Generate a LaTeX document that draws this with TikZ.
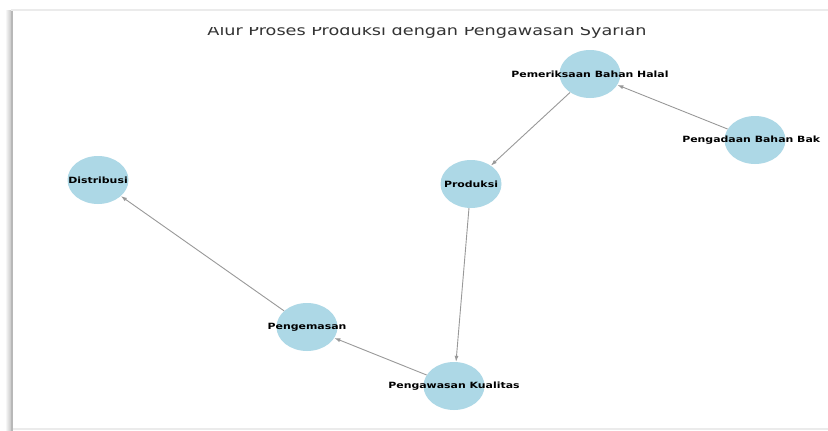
\documentclass[tikz,border=0pt]{standalone}
\usepackage{fontspec}
\setmainfont{DejaVu Sans}
\usetikzlibrary{shapes.geometric,arrows.meta}
\definecolor{nodeblue}{HTML}{ADD8E6}
\definecolor{edgegray}{HTML}{999999}
\begin{document}
\begin{tikzpicture}[x=1pt,y=-1pt,
  blob/.style={ellipse, fill=nodeblue, minimum width=61pt, minimum height=48pt, inner sep=0pt},
  lbl/.style={font=\fontsize{8.6}{10}\selectfont\bfseries, xscale=1.27, inner sep=0pt, text=black},
  flow/.style={draw=edgegray, line width=0.9pt, -{Latex[length=6pt,width=4pt]}},
]
\useasboundingbox (0,0) rectangle (828,431);
\fill[white] (0,0) rectangle (828,431);
% panel frame and shadow
\shade[left color=white, right color=black!22] (5,10) rectangle (11,431);
\fill[black!28] (11,10) rectangle (12.5,431);
\fill[black!8] (11,8.5) rectangle (828,11);
\fill[black!8] (12.5,427.5) rectangle (828,429.5);
% title (top clipped as in the reference)
\begin{scope}
\clip (0,27.5) rectangle (828,431);
\node[font=\fontsize{13.9}{16}\selectfont, xscale=1.27, text=black!80, anchor=base, inner sep=0pt] (title) at (427,35.5) {Alur Proses Produksi dengan Pengawasan Syariah};
\end{scope}
% nodes
\node[blob] (pem) at (590,74) {};
\node[blob] (pen) at (755,140) {};
\node[blob] (pro) at (471,184) {};
\node[blob] (dis) at (98,180) {};
\node[blob] (pgm) at (307,327) {};
\node[blob] (pkw) at (454,386) {};
% connectors
\draw[flow] (pen) -- (pem);
\draw[flow] (pem) -- (pro);
\draw[flow] (pro) -- (pkw);
\draw[flow] (pkw) -- (pgm);
\draw[flow] (pgm) -- (dis);
% labels
\node[lbl] (pemT) at (pem) {Pemeriksaan Bahan Halal};
\node[lbl, anchor=west] (penT) at (682,140) {Pengadaan Bahan Bak};
\node[lbl] (proT) at (pro) {Produksi};
\node[lbl] (disT) at (dis) {Distribusi};
\node[lbl] (pgmT) at (pgm) {Pengemasan};
\node[lbl] (pkwT) at (pkw) {Pengawasan Kualitas};
\end{tikzpicture}
\end{document}
